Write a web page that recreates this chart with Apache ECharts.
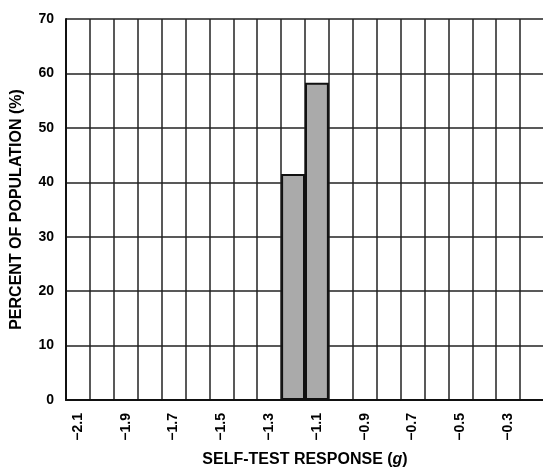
<!DOCTYPE html>
<html>
<head>
<meta charset="utf-8">
<script src="https://cdn.jsdelivr.net/npm/echarts@6/dist/echarts.min.js"></script>
<style>html,body{margin:0;padding:0;background:#fff}#c{width:543px;height:467px}</style>
</head>
<body>
<div id="c"></div>
<script>
var categories = ['\u22122.1','\u22122.0','\u22121.9','\u22121.8','\u22121.7','\u22121.6','\u22121.5','\u22121.4','\u22121.3','\u22121.2','\u22121.1','\u22121.0','\u22120.9','\u22120.8','\u22120.7','\u22120.6','\u22120.5','\u22120.4','\u22120.3','\u22120.2'];
var percents = [0,0,0,0,0,0,0,0,0,41.5,58.3,0,0,0,0,0,0,0,0,0];
var yTicks = [0,10,20,30,40,50,60,70];

var font = 'Liberation Sans, Arial, sans-serif';
var chart = echarts.init(document.getElementById('c'), null, {renderer:'canvas'});
chart.setOption({
  animation:false,
  grid:{left:66, top:19, width:478, height:381, show:false, containLabel:false, outerBoundsMode:'none'},
  xAxis:{
    type:'category', data:categories, boundaryGap:true,
    axisLine:{show:true, lineStyle:{color:'#111', width:2}},
    axisTick:{show:false},
    splitLine:{show:true, interval:0, lineStyle:{color:'#222', width:1.5}},
    axisLabel:{interval:1, rotate:90, margin:13, color:'#000', fontFamily:font, fontWeight:'bold', fontSize:14},
    name:'{a|SELF-TEST RESPONSE (}{b|g}{a|)}', nameLocation:'middle', nameGap:52,
    nameTextStyle:{rich:{a:{fontFamily:font,fontWeight:'bold',fontSize:16,color:'#000'},b:{fontFamily:font,fontWeight:'bold',fontStyle:'italic',fontSize:16,color:'#000'}}}
  },
  yAxis:{
    type:'value', min:yTicks[0], max:yTicks[yTicks.length-1], interval:10,
    axisLine:{show:true, lineStyle:{color:'#111', width:2}},
    axisTick:{show:false},
    splitLine:{show:true, lineStyle:{color:'#222', width:1.5}},
    axisLabel:{margin:12, color:'#000', fontFamily:font, fontWeight:'bold', fontSize:14},
    name:'PERCENT OF POPULATION (%)', nameLocation:'middle', nameGap:41,
    nameTextStyle:{fontFamily:font, fontWeight:'bold', fontSize:16, color:'#000'}
  },
  series:[{
    type:'bar', data:percents, barCategoryGap:'0%',
    itemStyle:{color:'#aaaaaa', borderColor:'#111', borderWidth:2}
  }]
});
</script>
</body>
</html>
